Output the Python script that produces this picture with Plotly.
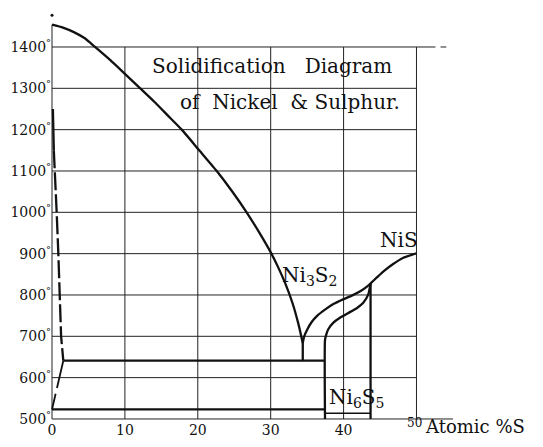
import plotly.graph_objects as go

# ---------------- data ----------------
temp_ticks = [500, 600, 700, 800, 900, 1000, 1100, 1200, 1300, 1400]
temp_tick_labels = [f"{t}<sup>°</sup>" for t in temp_ticks]
pct_ticks = [0, 10, 20, 30, 40]
pct_tick_labels = ["0", "10", "20", "30", "40"]

grid_pct = [10, 20, 30, 40, 50]
grid_temp = [600, 700, 800, 900, 1000, 1100, 1200, 1300]

# liquidus from pure Ni down to the Ni - Ni3S2 eutectic
liq_ni_x = [0, 1.5, 3, 4.5, 5.9, 8, 10, 12.1, 14, 15.9, 17.8, 20.2, 22.6, 24.7, 26.7, 28.4, 30.1,
            31.0, 32.0, 33.0, 33.8, 34.4]
liq_ni_t = [1454, 1447, 1436, 1421, 1400, 1368, 1335, 1300, 1268, 1234, 1200, 1150, 1100, 1051, 1000, 952, 900,
            868, 828, 780, 730, 684]

# liquidus from eutectic up to NiS
liq_s_x = [34.4, 34.6, 35.0, 35.6, 36.4, 37.4, 38.6, 40.0, 41.2, 42.4, 43.2, 43.7, 44.6, 45.6, 46.8, 48.2, 50.0]
liq_s_t = [684, 700, 716, 734, 750, 764, 778, 790, 799, 810, 820, 828, 843, 859, 875, 890, 901]

# Ni6S5 boundary curve
ni6s5_x = [37.45, 37.45, 37.6, 37.9, 38.6, 39.5, 40.6, 41.8, 42.7, 43.4, 43.7]
ni6s5_t = [500, 691, 703, 717, 733, 745, 756, 768, 781, 802, 828]

# right vertical of Ni6S5 field
ni6s5_right_x = [43.7, 43.7]
ni6s5_right_t = [500, 828]
ni6s5_bottom_x = [37.45, 43.7]
ni6s5_bottom_t = [514, 514]

# eutectic drop and horizontals
eut_drop_x = [34.4, 34.4]
eut_drop_t = [684, 640]
eut_line_x = [1.55, 37.45]
eut_line_t = [641, 641]
low_line_x = [0, 37.45]
low_line_t = [523, 523]

# solidus near pure Ni
sol_solid_x = [0.12, 0.25]
sol_solid_t = [1250, 1150]
sol_dash_x = [0.25, 0.4, 0.64, 0.87, 1.1, 1.25, 1.55]
sol_dash_t = [1150, 1100, 1000, 900, 800, 700, 641]
sol_diag_x = [1.55, 0]
sol_diag_t = [641, 523]

ni_dot_x = [0]
ni_dot_t = [1477]

FONT = "DejaVu Serif"
INK = "#111111"

fig = go.Figure()

# grid: built from the grid value lists
gx, gy = [], []
for t in grid_temp:
    gx += [0, 50, None]
    gy += [t, t, None]
for p in grid_pct:
    gx += [p, p, None]
    gy += [500, 1400, None]
# axis lines
gx += [0, 0, None, 0, 55, None, 0, 52.6, None, 53.3, 54.1, None]
gy += [500, 1454, None, 500, 500, None, 1400, 1400, None, 1400, 1400, None]
fig.add_trace(go.Scatter(x=gx, y=gy, mode="lines", line=dict(color="#222222", width=1),
                         hoverinfo="skip", showlegend=False))

def thick(x, y, dash="solid", shape="linear", w=2.3):
    fig.add_trace(go.Scatter(x=x, y=y, mode="lines",
                             line=dict(color=INK, width=w, dash=dash, shape=shape, smoothing=0.5),
                             hoverinfo="skip", showlegend=False))

thick(liq_ni_x, liq_ni_t, shape="spline")
thick(liq_s_x, liq_s_t, shape="spline")
thick(ni6s5_x, ni6s5_t, shape="spline")
thick(ni6s5_right_x, ni6s5_right_t)
thick(ni6s5_bottom_x, ni6s5_bottom_t, w=1.6)
thick(eut_drop_x, eut_drop_t)
thick(eut_line_x, eut_line_t)
thick(low_line_x, low_line_t)
thick(sol_solid_x, sol_solid_t)
thick(sol_dash_x, sol_dash_t, dash="18px,4px")
thick(sol_diag_x, sol_diag_t, dash="28px,6px", w=1.8)
fig.add_trace(go.Scatter(x=ni_dot_x, y=ni_dot_t, mode="markers",
                         marker=dict(color=INK, size=3), hoverinfo="skip", showlegend=False))

ann = []
def label(text, x, y, size=20, xanchor="left"):
    ann.append(dict(text=text, x=x, y=y, xref="x", yref="y", showarrow=False,
                    xanchor=xanchor, yanchor="middle",
                    font=dict(family=FONT, size=size, color=INK)))

label("Solidification\u00a0\u00a0\u00a0Diagram", 13.4, 1354)
label("of\u00a0\u00a0Nickel\u00a0\u00a0&\u00a0Sulphur.", 17.3, 1266)
label("Ni<sub>3</sub>S<sub>2</sub>", 31.3, 846)
label("NiS", 44.7, 932)
label("Ni<sub>6</sub>S<sub>5</sub>", 37.7, 551)
label("50", 49.7, 490, size=12, xanchor="center")
label("Atomic %S", 50.9, 483, size=18)

# page body has an 8px margin: size the figure so it fits the 543x447 window
fig.update_layout(
    width=535, height=439,
    margin=dict(l=29, r=76, t=2, b=16),
    paper_bgcolor="white", plot_bgcolor="white",
    annotations=ann,
    xaxis=dict(range=[-2.058, 56.93], showgrid=False, zeroline=False, showline=False,
               tickvals=pct_ticks, ticktext=pct_tick_labels, ticks="",
               ticklabelstandoff=-11,
               tickfont=dict(family=FONT, size=14, color=INK)),
    yaxis=dict(range=[470.9, 1489.5], showgrid=False, zeroline=False, showline=False,
               tickvals=temp_ticks, ticktext=temp_tick_labels, ticks="",
               ticklabelstandoff=-15,
               tickfont=dict(family=FONT, size=14, color=INK)),
)

fig.write_html("out.html")
